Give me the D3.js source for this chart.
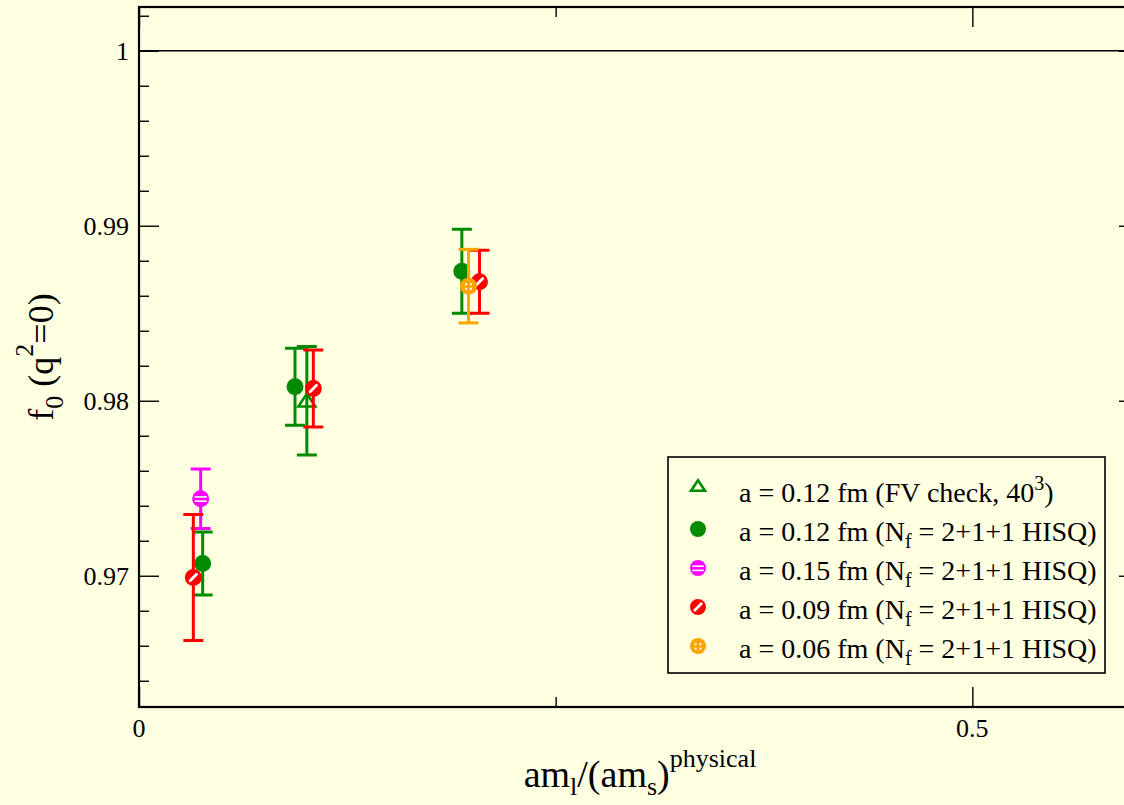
<!DOCTYPE html>
<html>
<head>
<meta charset="utf-8">
<script src="https://cdn.jsdelivr.net/npm/d3@7"></script>
<style>
  html, body { margin: 0; padding: 0; background: #ffffe2; }
  svg { display: block; }
  text { font-family: "Liberation Serif", "Times New Roman", serif; fill: #000; }
</style>
</head>
<body>
<svg id="chart" width="1124" height="805"></svg>
<script>
// ---------------- data ----------------
const seriesNames = ["fv012", "a012", "a015", "a009", "a006"];
const seriesColors = ["#008b00", "#008b00", "#ff00ff", "#ff0000", "#ffa500"];
const seriesSymbols = ["triangle", "filled", "hlines", "slash", "dots"];

// x = am_l/(am_s)^phys, y = f0(q^2=0), e = error
const fv012_x = [0.1007];
const fv012_y = [0.9800];
const fv012_e = [0.0031];

const a012_x = [0.0382, 0.0936, 0.1937];
const a012_y = [0.9707, 0.9808, 0.9874];
const a012_e = [0.0018, 0.0022, 0.0024];

const a015_x = [0.0370];
const a015_y = [0.9744];
const a015_e = [0.0017];

const a009_x = [0.0326, 0.1046, 0.2043];
const a009_y = [0.9699, 0.9807, 0.9868];
const a009_e = [0.0036, 0.0022, 0.0018];

const a006_x = [0.1977];
const a006_y = [0.98655];
const a006_e = [0.0021];

const xTickMajor = [0, 0.5];
const xTickMinor = [0.25];
const xTickLabels = ["0", "0.5"];
const yTickMajor = [0.97, 0.98, 0.99, 1.0];
const yTickMinor = [0.964, 0.966, 0.968, 0.972, 0.974, 0.976, 0.978, 0.982, 0.984, 0.986, 0.988, 0.992, 0.994, 0.996, 0.998, 1.002];
const yTickLabels = ["0.97", "0.98", "0.99", "1"];

const legendLabels = [
  [{t: "a = 0.12 fm (FV check, 40"}, {t: "3", sup: true}, {t: ")"}],
  [{t: "a = 0.12 fm (N"}, {t: "f", sub: true}, {t: " = 2+1+1 HISQ)"}],
  [{t: "a = 0.15 fm (N"}, {t: "f", sub: true}, {t: " = 2+1+1 HISQ)"}],
  [{t: "a = 0.09 fm (N"}, {t: "f", sub: true}, {t: " = 2+1+1 HISQ)"}],
  [{t: "a = 0.06 fm (N"}, {t: "f", sub: true}, {t: " = 2+1+1 HISQ)"}]
];
const xTitleParts = [{t: "am"}, {t: "l", sub: true}, {t: "/(am"}, {t: "s", sub: true}, {t: ")"}, {t: "physical", sup: true}];
const yTitleParts = [{t: "f"}, {t: "0", sub: true}, {t: " (q"}, {t: "2", sup: true}, {t: "=0)"}];

const allSeries = [
  {x: fv012_x, y: fv012_y, e: fv012_e},
  {x: a012_x, y: a012_y, e: a012_e},
  {x: a015_x, y: a015_y, e: a015_e},
  {x: a009_x, y: a009_y, e: a009_e},
  {x: a006_x, y: a006_y, e: a006_e}
];

// ---------------- layout ----------------
const pLeft = 139, pRight = 1139, pTop = 7, pBottom = 707;
const x = d3.scaleLinear().domain([0, 0.6]).range([pLeft, pRight]);
const y = d3.scaleLinear().domain([0.9625, 1.0025]).range([pBottom, pTop]);

const svg = d3.select("#chart");
svg.append("rect").attr("width", 1124).attr("height", 805).attr("fill", "#ffffe2");

svg.append("line")
  .attr("x1", pLeft).attr("x2", pRight)
  .attr("y1", y(1)).attr("y2", y(1))
  .attr("stroke", "#000").attr("stroke-width", 1.6);

function addAxis(gen, transform, values, size) {
  const g = svg.append("g").attr("transform", transform)
    .call(gen.tickValues(values).tickSize(size).tickFormat(""));
  g.selectAll(".domain").remove();
  g.selectAll(".tick line").attr("stroke", "#000").attr("stroke-width", 1.4);
  return g;
}
addAxis(d3.axisTop(x), `translate(0,${pBottom})`, xTickMajor, 20);
addAxis(d3.axisTop(x), `translate(0,${pBottom})`, xTickMinor, 10);
addAxis(d3.axisBottom(x), `translate(0,${pTop})`, xTickMajor, 20);
addAxis(d3.axisBottom(x), `translate(0,${pTop})`, xTickMinor, 10);
addAxis(d3.axisRight(y), `translate(${pLeft},0)`, yTickMajor, 20);
addAxis(d3.axisRight(y), `translate(${pLeft},0)`, yTickMinor, 10);
addAxis(d3.axisLeft(y), `translate(${pRight},0)`, yTickMajor, 20);
addAxis(d3.axisLeft(y), `translate(${pRight},0)`, yTickMinor, 10);

svg.append("g").selectAll("text").data(xTickMajor).join("text")
  .attr("x", d => x(d)).attr("y", 737)
  .attr("text-anchor", "middle").attr("font-size", 26)
  .text((d, i) => xTickLabels[i]);
svg.append("g").selectAll("text").data(yTickMajor).join("text")
  .attr("x", 129).attr("y", d => y(d) + 9)
  .attr("text-anchor", "end").attr("font-size", 26)
  .text((d, i) => yTickLabels[i]);

svg.append("rect")
  .attr("x", pLeft).attr("y", pTop)
  .attr("width", pRight - pLeft).attr("height", pBottom - pTop)
  .attr("fill", "none").attr("stroke", "#000").attr("stroke-width", 2.2);

function richText(t, parts, scriptSize, subOff, supOff) {
  let cur = 0;
  parts.forEach(p => {
    const target = p.sub ? subOff : (p.sup ? supOff : 0);
    const ts = t.append("tspan").attr("dy", target - cur).text(p.t);
    if (p.sub || p.sup) ts.attr("font-size", scriptSize);
    cur = target;
  });
}

function drawSymbol(g, type, color, cx, cy, r) {
  const s = g.append("g").attr("transform", `translate(${cx},${cy})`);
  if (type === "triangle") {
    const h = r * 1.5;
    s.append("path")
      .attr("d", `M0,${-h * 0.55} L${r},${h * 0.45} L${-r},${h * 0.45} Z`)
      .attr("fill", "none").attr("stroke", color).attr("stroke-width", 2.6);
  } else if (type === "filled") {
    s.append("circle").attr("r", r).attr("fill", color);
  } else if (type === "hlines") {
    s.append("circle").attr("r", r - 1.2).attr("fill", color)
      .attr("stroke", color).attr("stroke-width", 2.4);
    s.append("line").attr("x1", -r * 0.72).attr("x2", r * 0.72)
      .attr("y1", -1.8).attr("y2", -1.8).attr("stroke", "#fff").attr("stroke-width", 1.6);
    s.append("line").attr("x1", -r * 0.72).attr("x2", r * 0.72)
      .attr("y1", 2.4).attr("y2", 2.4).attr("stroke", "#fff").attr("stroke-width", 1.6);
  } else if (type === "slash") {
    s.append("circle").attr("r", r - 1.2).attr("fill", color)
      .attr("stroke", color).attr("stroke-width", 2.4);
    s.append("line").attr("x1", -3.2).attr("y1", 3.2).attr("x2", 3.2).attr("y2", -3.2)
      .attr("stroke", "#fff").attr("stroke-width", 2.8).attr("stroke-linecap", "round");
  } else if (type === "dots") {
    s.append("circle").attr("r", r).attr("fill", color);
    [[-2.4, -1.8], [2.4, -1.8], [-2.4, 2.6], [2.4, 2.6]].forEach(p => {
      s.append("rect").attr("x", p[0] - 1).attr("y", p[1] - 1)
        .attr("width", 2).attr("height", 2).attr("fill", "#fff");
    });
  }
}

const plotG = svg.append("g");
allSeries.forEach((ser, si) => {
  const color = seriesColors[si];
  const g = plotG.append("g");
  const pts = ser.x.map((xv, i) => ({x: xv, y: ser.y[i], e: ser.e[i]}));
  pts.forEach(p => {
    const cx = x(p.x), y1 = y(p.y + p.e), y2 = y(p.y - p.e);
    g.append("line").attr("x1", cx).attr("x2", cx).attr("y1", y1).attr("y2", y2)
      .attr("stroke", color).attr("stroke-width", 3);
    [y1, y2].forEach(yy => {
      g.append("line").attr("x1", cx - 10).attr("x2", cx + 10).attr("y1", yy).attr("y2", yy)
        .attr("stroke", color).attr("stroke-width", 3);
    });
  });
  pts.forEach(p => drawSymbol(g, seriesSymbols[si], color, x(p.x), y(p.y), 8.5));
});

const lg = svg.append("g");
lg.append("rect").attr("x", 668).attr("y", 457).attr("width", 437).attr("height", 216)
  .attr("fill", "#ffffe2").attr("stroke", "#000").attr("stroke-width", 1.6);
legendLabels.forEach((parts, i) => {
  const base = 502 + i * 39;
  const isTri = seriesSymbols[i] === "triangle";
  drawSymbol(lg, seriesSymbols[i], seriesColors[i], 698, isTri ? base - 16 : base - 12, isTri ? 7 : 8);
  const t = lg.append("text").attr("x", 739).attr("y", base).attr("font-size", 28);
  richText(t, parts, 20, 7, -12);
});

const xt = svg.append("text").attr("x", 640).attr("y", 787)
  .attr("text-anchor", "middle").attr("font-size", 38);
richText(xt, xTitleParts, 26, 8, -20);

const yt = svg.append("text")
  .attr("transform", `translate(53,${(pTop + pBottom) / 2}) rotate(-90)`)
  .attr("text-anchor", "middle").attr("font-size", 36);
richText(yt, yTitleParts, 26, 10, -20);
</script>
</body>
</html>
